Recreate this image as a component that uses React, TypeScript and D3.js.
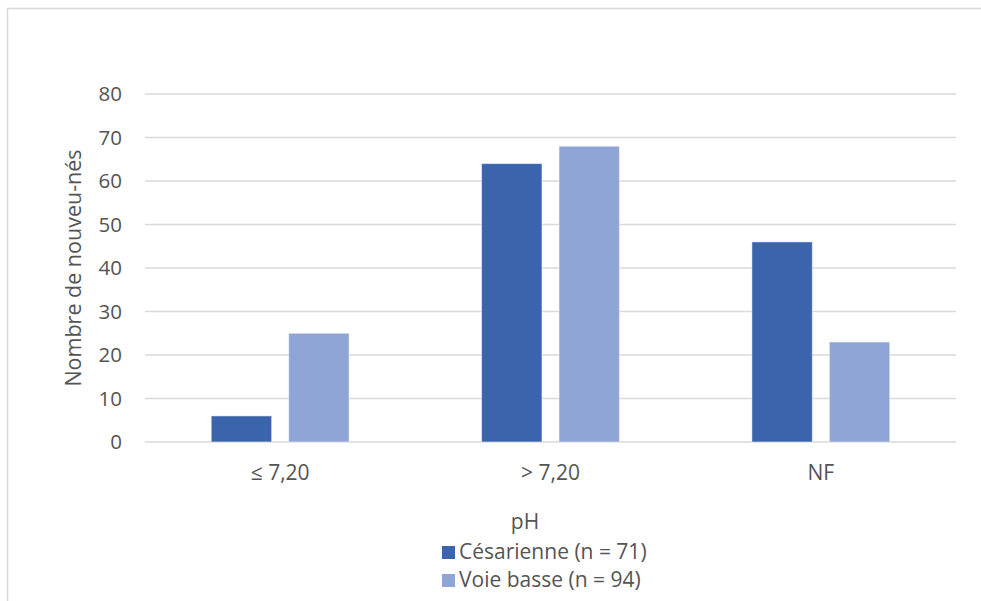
import React from "react";
import * as d3 from "d3";

// Chart data
const categories: string[] = ["≤ 7,20", "> 7,20", "NF"];
const seriesNames: string[] = ["Césarienne (n = 71)", "Voie basse (n = 94)"];
const cesarienne: number[] = [6, 64, 46];
const voieBasse: number[] = [25, 68, 23];
const yTicks: number[] = [0, 10, 20, 30, 40, 50, 60, 70, 80];
const seriesColors: string[] = ["#3b64ad", "#8fa5d5"];

const W = 981;
const H = 601;
const FONT = "'Open Sans', 'DejaVu Sans', sans-serif";
const TEXT = "#545454";

export default function App() {
  const margin = { left: 145, right: 25, top: 94, bottom: 159 };
  const plotRight = W - margin.right;
  const plotBottom = H - margin.bottom;

  const x0 = d3
    .scaleBand<string>()
    .domain(categories)
    .range([margin.left, plotRight])
    .paddingInner(0.49)
    .paddingOuter(0.245);

  const x1 = d3
    .scaleBand<string>()
    .domain(seriesNames)
    .range([0, x0.bandwidth()])
    .paddingInner(0.22);

  const y = d3.scaleLinear().domain([0, 80]).range([plotBottom, margin.top]);

  const values = [cesarienne, voieBasse];

  return (
    <svg
      width={W}
      height={H}
      style={{ position: "absolute", left: 0, top: 0, background: "#fff" }}
      fontFamily={FONT}
    >
      <rect x={0} y={0} width={W} height={H} fill="#fff" />
      {/* chart frame */}
      <rect
        x={7.5}
        y={8.5}
        width={W + 20}
        height={H + 20}
        fill="none"
        stroke="#d9d9d9"
        strokeWidth={1.5}
      />

      {/* gridlines and y tick labels */}
      {yTicks.map((t) => (
        <g key={t}>
          <line
            x1={margin.left}
            x2={plotRight}
            y1={y(t)}
            y2={y(t)}
            stroke="#d9d9d9"
            strokeWidth={1.5}
          />
          <text
            x={122}
            y={y(t)}
            dy="0.36em"
            textAnchor="end"
            fontSize={20.5}
            fill={TEXT}
          >
            {t}
          </text>
        </g>
      ))}

      {/* bars */}
      {categories.map((c, ci) => (
        <g key={c} transform={`translate(${x0(c)},0)`}>
          {seriesNames.map((s, si) => {
            const v = values[si][ci];
            return (
              <rect
                key={s}
                x={x1(s)}
                y={y(v)}
                width={x1.bandwidth()}
                height={y(0) - y(v)}
                fill={seriesColors[si]}
                stroke="#ffffff"
                strokeOpacity={0.5}
                strokeWidth={1}
              />
            );
          })}
        </g>
      ))}

      {/* category labels */}
      {categories.map((c) => (
        <text
          key={c}
          x={(x0(c) as number) + x0.bandwidth() / 2}
          y={480}
          textAnchor="middle"
          fontSize={21}
          fill={TEXT}
        >
          {c}
        </text>
      ))}

      {/* y axis title */}
      <text
        transform={`translate(81,${(y(0) + y(80)) / 2}) rotate(-90)`}
        textAnchor="middle"
        fontSize={21.5}
        fill={TEXT}
      >
        Nombre de nouveu-nés
      </text>

      {/* x axis title */}
      <text x={525} y={529} textAnchor="middle" fontSize={21} fill={TEXT}>
        pH
      </text>

      {/* legend */}
      {seriesNames.map((s, i) => (
        <g key={s} transform={`translate(442,${546 + i * 28})`}>
          <rect width={13} height={13} fill={seriesColors[i]} />
          <text x={17} y={13} fontSize={21} fill={TEXT}>
            {s}
          </text>
        </g>
      ))}
    </svg>
  );
}
